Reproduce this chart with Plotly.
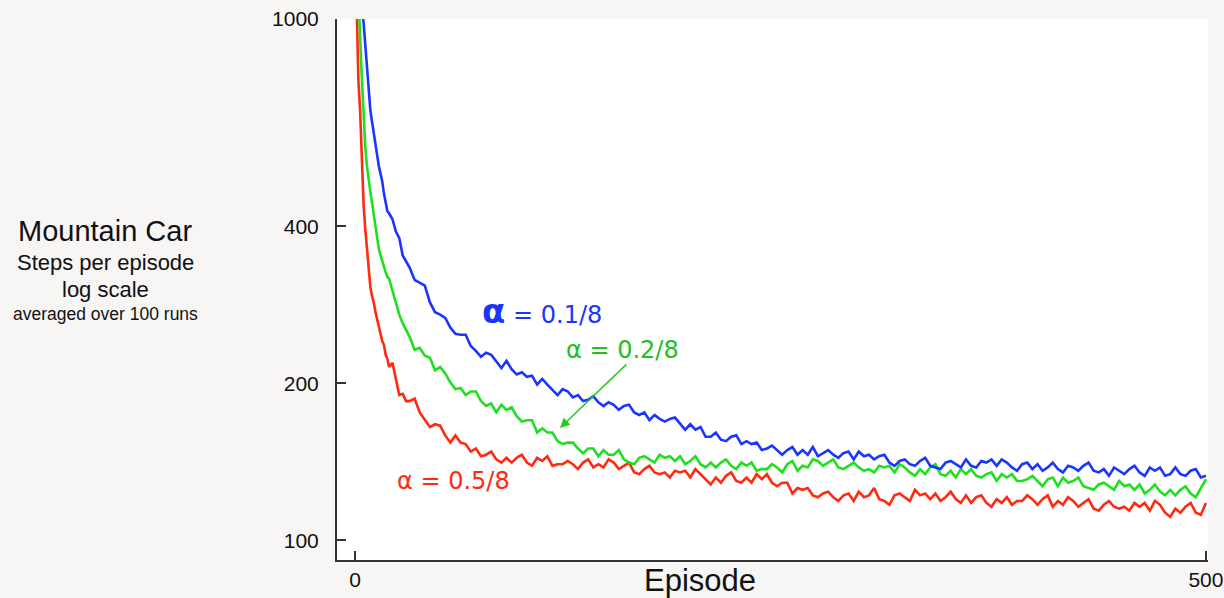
import math
import plotly.graph_objects as go

# Episodes (x values)
episodes = [1, 2, 3, 4, 5, 6, 7, 8, 9, 10, 11, 12, 13, 14, 15, 16, 17, 18, 19, 20,
            22, 24, 26, 28, 30] + list(range(32, 501, 3))

# Steps per episode, alpha = 0.1/8 (blue)
steps_a01 = [1500, 1320, 1160, 1060, 985, 890, 805, 735, 668, 635, 600, 578, 548, 522, 505,
             488, 462, 444, 428, 424, 413, 391, 380, 352, 343,
             334, 316, 312, 308, 286, 274, 271, 267, 256, 249,
             248, 248, 236, 231, 225, 229, 227, 220, 214, 221,
             213, 208, 210, 206, 207, 199, 204, 199, 194, 190,
             195, 193, 188, 190, 185, 186, 189, 184, 181, 184,
             182, 178, 181, 182, 176, 174, 176, 170, 174, 171,
             169, 171, 172, 167, 163, 167, 163, 165, 158, 158,
             161, 156, 155, 158, 159, 153, 155, 153, 154, 149,
             150, 152, 149, 146, 149, 151, 146, 149, 146, 151,
             145, 147, 149, 146, 144, 147, 148, 143, 148, 145,
             146, 143, 145, 146, 141, 139, 142, 143, 140, 139,
             142, 144, 139, 138, 137, 141, 142, 140, 138, 143,
             139, 138, 142, 141, 143, 139, 143, 141, 138, 136,
             140, 141, 137, 140, 136, 138, 141, 137, 135, 139,
             138, 136, 139, 141, 136, 135, 137, 133, 138, 136,
             134, 137, 139, 135, 133, 138, 136, 138, 133, 134,
             138, 134, 133, 136, 137, 132, 133]

# Steps per episode, alpha = 0.2/8 (green)
steps_a02 = [1400, 1080, 920, 770, 655, 570, 522, 488, 466, 444, 422, 398, 380, 362, 352,
             343, 332, 327, 320, 318, 301, 286, 271, 261, 254,
             246, 232, 234, 226, 224, 212, 215, 209, 201, 195,
             196, 190, 193, 193, 185, 181, 183, 176, 182, 178,
             180, 173, 169, 170, 170, 161, 164, 161, 161, 155,
             153, 154, 154, 150, 147, 150, 150, 145, 149, 146,
             146, 149, 143, 141, 140, 144, 145, 143, 141, 146,
             144, 145, 142, 145, 140, 142, 145, 140, 138, 141,
             138, 141, 143, 139, 137, 141, 139, 141, 136, 137,
             137, 140, 138, 135, 140, 142, 136, 139, 138, 143,
             142, 139, 141, 143, 138, 137, 139, 141, 138, 136,
             137, 135, 139, 138, 139, 135, 140, 138, 135, 133,
             137, 134, 138, 140, 134, 133, 136, 132, 137, 134,
             137, 133, 132, 134, 135, 130, 134, 132, 134, 130,
             130, 131, 133, 130, 127, 131, 132, 127, 132, 129,
             130, 132, 127, 126, 125, 128, 129, 127, 125, 130,
             127, 128, 125, 128, 123, 125, 128, 124, 122, 125,
             122, 125, 127, 123, 121, 126, 131]

# Steps per episode, alpha = 0.5/8 (red)
steps_a05 = [1050, 760, 665, 530, 442, 396, 362, 331, 306, 294, 286, 274, 266, 255, 250,
             241, 237, 227, 223, 215, 219, 204, 190, 191, 185,
             185, 187, 176, 170, 165, 167, 166, 159, 154, 159,
             154, 153, 148, 150, 145, 146, 148, 143, 141, 144,
             141, 144, 146, 141, 139, 144, 142, 145, 139, 140,
             140, 142, 140, 137, 141, 143, 138, 140, 138, 143,
             141, 137, 139, 141, 135, 134, 137, 139, 135, 134,
             135, 132, 136, 135, 136, 132, 137, 134, 131, 128,
             132, 129, 133, 135, 130, 129, 132, 129, 134, 131,
             134, 129, 127, 129, 129, 123, 126, 125, 126, 122,
             121, 123, 124, 121, 119, 122, 123, 119, 124, 121,
             122, 126, 120, 119, 117, 122, 123, 121, 119, 125,
             122, 123, 120, 123, 119, 121, 124, 120, 118, 122,
             118, 121, 122, 118, 116, 120, 118, 121, 117, 119,
             119, 122, 120, 117, 120, 122, 116, 119, 117, 121,
             119, 116, 118, 120, 115, 114, 117, 119, 116, 115,
             116, 114, 118, 116, 118, 114, 119, 117, 113, 111,
             115, 113, 116, 118, 113, 112, 118]

y_ticks = [100, 200, 400, 1000]
x_ticks = [0, 500]

BLUE = "#1a35ff"
GREEN = "#1fe01f"
RED = "#ff2a12"
FONT = "Liberation Sans, Arial, sans-serif"

fig = go.Figure()
for vals, col in [(steps_a05, RED), (steps_a02, GREEN), (steps_a01, BLUE)]:
    fig.add_trace(go.Scatter(x=episodes, y=vals, mode="lines",
                             line=dict(color=col, width=2.6), showlegend=False))

axis_col = "#333333"
fig.update_layout(
    width=1224, height=598,
    margin=dict(l=337, r=16, t=19, b=38, autoexpand=False),
    paper_bgcolor="#f7f6f4",
    plot_bgcolor="#ffffff",
    font=dict(family=FONT, color="#111111"),
    xaxis=dict(range=[-10.6, 501.2], showgrid=False, zeroline=False, automargin=False,
               showline=True, linecolor=axis_col, linewidth=2,
               ticks="inside", ticklen=9, tickwidth=2, tickcolor=axis_col,
               tickvals=x_ticks, ticktext=[str(v) for v in x_ticks],
               tickfont=dict(size=21, family=FONT, color="#111")),
    yaxis=dict(type="log", range=[math.log10(91.7), 3.0], showgrid=False, automargin=False,
               zeroline=False, showline=True, linecolor=axis_col, linewidth=2,
               ticks="inside", ticklen=9, tickwidth=2, tickcolor=axis_col,
               tickvals=y_ticks, ticktext=[str(v) for v in y_ticks],
               ticklabelstandoff=12,
               tickfont=dict(size=21, family=FONT, color="#111")),
)

def px_x(px):
    return (px - 337) / 871.0

def px_y(py):
    return (560 - py) / 541.0

left_lines = [("Mountain Car", 231, 29), ("Steps per episode", 262, 22),
              ("log scale", 289, 22), ("averaged over 100 runs", 314, 17.5)]
for txt, py, sz in left_lines:
    fig.add_annotation(text=txt, xref="paper", yref="paper", x=px_x(105), y=px_y(py),
                       showarrow=False, xanchor="center", yanchor="middle",
                       font=dict(size=sz, family=FONT, color="#111"))

fig.add_annotation(text="Episode", xref="paper", yref="paper", x=px_x(700), y=px_y(580),
                   showarrow=False, xanchor="center", yanchor="middle",
                   font=dict(size=31, family=FONT, color="#111"))

LFONT = "DejaVu Sans, sans-serif"
fig.add_annotation(text="<b><span style='font-size:34px'>α</span></b> = 0.1/8",
                   x=110, y=2.44, showarrow=False,
                   font=dict(size=24, family=LFONT, color=BLUE))
fig.add_annotation(text="α = 0.2/8", x=157, y=2.366, showarrow=False,
                   font=dict(size=24, family=LFONT, color="#22c022"))
fig.add_annotation(text="α = 0.5/8", x=58, y=2.114, showarrow=False,
                   font=dict(size=24, family=LFONT, color=RED))
fig.add_annotation(text="", x=120.4, y=2.2157, ax=68, ay=-65, showarrow=True,
                   arrowhead=2, arrowsize=1.3, arrowwidth=1.5, arrowcolor="#22cc22")

fig.write_html("out.html", config={"displayModeBar": False},
               post_script="document.body.style.margin='0';")
